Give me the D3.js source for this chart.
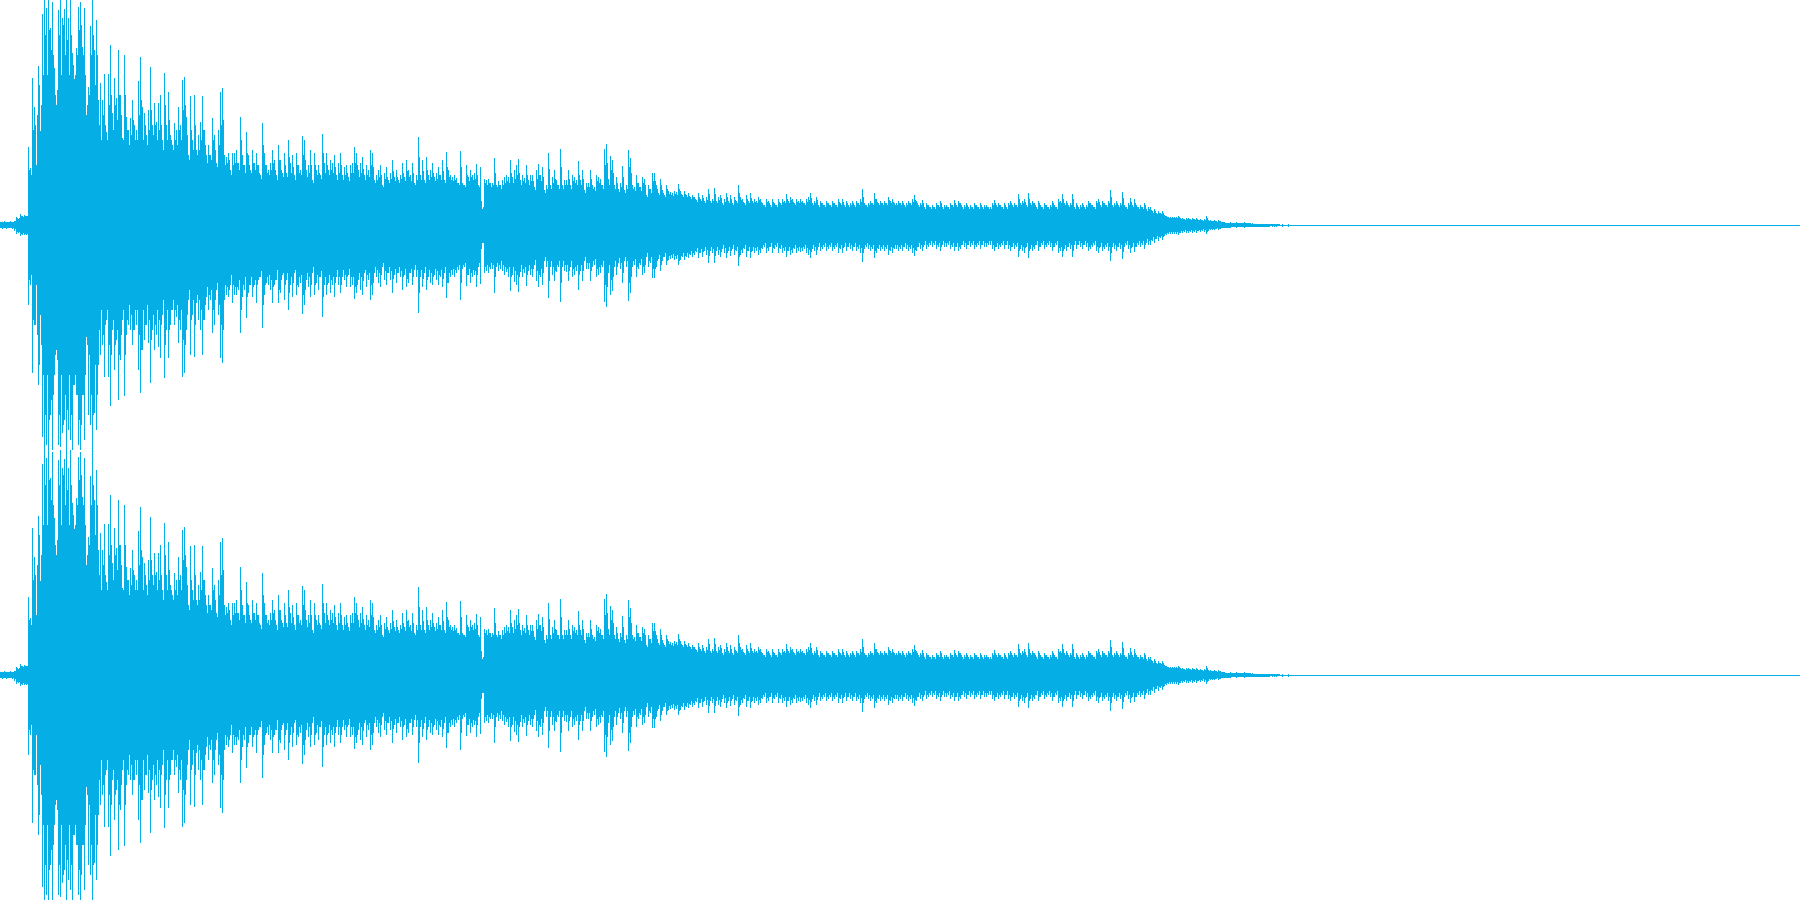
<!DOCTYPE html>
<html><head><meta charset="utf-8">
<style>html,body{margin:0;background:#fff;overflow:hidden}svg{display:block}</style>
<script src="https://cdn.jsdelivr.net/npm/d3@7/dist/d3.min.js"></script>
</head><body><svg id="c" width="1800" height="900"></svg>
<script>
// Peak amplitude per column (even pixel columns), 225 = full scale
const peaksUp = [
3,3,4,3,3,4,3,4,8,6,11,9,10,9,78,57,147,118,60,159,94,211,225,217,225,
197,223,157,120,215,225,207,216,225,207,225,172,146,177,218,223,178,217,95,138,199,225,175,205,125,
142,125,151,93,151,180,112,147,127,175,130,87,170,108,95,107,125,100,95,144,168,118,112,90,115,
158,100,122,103,122,130,85,152,100,133,90,80,102,95,118,100,145,148,108,70,129,85,130,75,90,
103,129,95,70,80,70,107,90,62,95,133,137,70,68,72,55,72,72,75,62,108,70,60,93,70,
55,75,62,72,60,50,102,72,60,55,62,75,65,50,80,65,52,72,52,85,62,70,50,72,60,
55,89,85,55,60,75,45,72,55,60,50,91,62,72,55,65,62,70,50,62,72,50,58,60,48,
60,62,78,72,55,62,68,50,60,55,75,72,45,50,55,60,40,52,58,45,52,65,48,55,45,
50,62,48,65,55,50,62,42,50,88,50,65,45,68,50,55,62,48,52,58,50,65,45,73,55,
50,48,50,47,42,74,42,40,60,48,55,50,52,61,40,58,16,46,45,46,42,42,67,40,44,
40,45,48,50,48,65,48,55,60,66,45,50,47,60,45,50,50,38,55,61,50,58,35,40,72,
40,48,55,45,40,76,40,45,45,55,40,50,48,45,64,45,55,35,42,42,55,40,38,50,48,
46,40,76,81,46,69,65,40,48,36,42,59,35,40,75,67,40,38,50,42,38,48,46,30,40,
36,52,52,40,32,46,35,30,40,34,33,32,34,33,41,34,30,34,30,32,28,30,28,25,32,
26,30,24,28,36,24,26,37,24,28,30,22,26,32,24,30,22,28,24,40,28,26,22,30,24,
32,24,26,24,28,26,22,20,26,24,20,26,22,20,26,22,26,24,31,24,28,26,22,26,24,
26,24,22,26,28,32,22,24,28,20,24,22,20,24,22,20,24,22,20,26,22,26,20,24,20,
22,24,20,24,22,26,36,22,20,22,24,22,32,26,22,24,22,24,22,28,24,26,22,22,24,
22,24,20,22,24,22,26,30,24,20,22,25,18,22,20,18,20,18,22,20,24,18,20,20,18,
22,20,25,20,24,22,18,20,22,18,20,18,22,20,18,22,18,20,20,18,18,22,25,20,22,
20,18,22,18,22,24,20,22,20,31,22,24,26,20,32,22,24,22,18,24,20,18,22,20,18,
20,24,20,18,26,24,31,22,24,20,22,31,18,22,18,20,22,18,20,24,22,20,18,24,26,
20,24,22,20,24,35,20,22,24,20,22,33,20,18,22,27,20,26,20,18,20,18,22,16,18,
18,14,16,12,14,12,14,10,9,8,8,8,8,8,9,7,7,6,7,7,6,7,6,7,5,
6,5,6,9,5,5,4,5,4,5,4,3,3,2,2,3,2,2,3,2,2,2,3,2,2,
2,2,1.5,1.5,1.5,1.5,1.5,1.5,0.5,1.5,0.5,1.5,1.5,1.5,0.5,0.5,1.5,0.5,0.5,1.5,0.5,0.5,0.5,0.5,0.5
];
const peaksDown = [
3,4,3,4,3,3,4,6,9,8,11,10,10,10,80,60,148,100,60,160,90,212,225,220,225,
190,225,150,125,220,222,208,195,225,205,215,225,160,170,220,225,170,215,100,190,200,225,188,205,140,
130,120,152,95,152,181,105,145,115,175,135,95,171,110,100,105,120,105,100,145,168,125,115,100,118,
158,105,125,110,122,133,90,153,105,133,100,85,100,92,118,105,152,148,105,75,130,90,132,78,95,
105,130,95,72,85,75,108,100,65,90,133,138,75,70,72,60,78,70,70,65,108,72,65,93,68,
60,72,60,78,55,52,103,70,58,60,65,78,60,55,78,68,50,75,55,85,60,72,48,70,62,
58,89,80,55,62,72,48,70,58,65,52,92,60,70,58,68,60,72,52,60,68,52,55,62,50,
62,60,74,68,55,65,70,48,62,55,75,70,48,52,58,62,42,55,60,48,55,68,50,58,48,
52,65,50,62,58,48,60,45,52,88,52,62,48,65,52,58,60,50,55,60,52,62,48,73,58,
52,50,52,48,45,75,44,42,61,50,58,52,50,62,42,59,18,48,46,48,44,44,68,42,46,
44,46,50,47,52,66,50,57,60,67,47,52,48,61,46,50,52,40,56,62,52,60,36,42,73,
42,50,56,47,42,77,42,46,47,56,42,52,50,46,65,46,56,36,44,44,56,42,40,52,50,
48,42,77,82,48,70,66,42,50,38,44,58,36,42,76,68,42,40,52,44,40,50,48,32,42,
38,53,53,42,34,46,36,32,40,35,34,33,35,34,40,35,32,35,32,33,30,32,30,27,33,
28,32,26,30,38,26,28,38,26,30,32,24,28,33,26,31,24,30,26,41,30,28,24,32,26,
33,26,28,26,30,28,24,22,28,26,22,28,24,22,28,24,28,26,32,26,30,28,24,28,26,
27,26,24,28,30,33,24,26,30,22,26,24,22,26,24,22,26,24,22,28,24,28,22,26,22,
24,26,22,26,24,28,37,24,22,24,26,24,33,28,24,26,24,26,24,30,26,28,24,24,26,
24,26,22,24,26,24,28,31,26,22,24,26,20,24,22,20,22,20,24,22,26,20,22,22,20,
24,22,26,22,26,24,20,22,24,20,22,20,24,22,20,24,20,22,22,20,20,24,26,22,24,
22,20,24,20,24,26,22,24,22,32,24,26,28,22,33,24,26,24,20,26,22,20,24,22,20,
22,26,22,20,28,26,32,24,26,22,24,32,20,24,20,22,24,20,22,26,24,22,20,26,28,
22,26,24,22,26,36,22,24,26,22,24,34,22,20,24,28,22,27,22,20,22,20,24,18,20,
20,16,18,14,16,13,15,11,10,9,9,9,9,9,10,8,8,7,8,8,7,8,7,8,6,
7,6,7,9,6,5,5,5,4,5,4,3,3,2,2,3,2,2,3,2,2,2,3,2,2,
2,2,1.5,1.5,1.5,1.5,1.5,1.5,0.5,1.5,0.5,1.5,1.5,1.5,0.5,0.5,1.5,0.5,0.5,1.5,0.5,0.5,0.5,0.5,0.5
];
// Amplitude of the odd pixel columns, lower than the peaks around them
const shoulders = [
3,3,3,3,3,3,3,4,7,7,9,8,9,9,55,50,95,100,110,140,120,150,190,150,195,
175,170,130,135,190,150,200,170,185,150,190,160,150,170,195,200,170,150,120,130,170,190,140,170,90,
85,110,100,85,120,130,95,120,105,130,110,85,130,95,80,90,105,85,85,110,125,85,100,80,95,
115,90,100,85,95,100,75,120,85,105,85,75,85,80,95,85,115,120,90,65,95,75,100,70,75,
85,95,80,62,70,65,85,75,58,80,100,105,60,62,65,50,60,62,62,55,85,60,52,72,60,
52,62,55,60,52,46,80,60,52,50,55,62,55,45,65,55,48,60,48,68,52,58,45,60,52,
50,70,65,48,52,60,42,60,50,52,46,72,52,60,50,55,52,58,45,52,60,45,50,52,44,
52,52,62,60,48,52,56,45,50,48,60,58,42,45,48,50,38,46,48,42,46,54,44,48,42,
46,52,44,54,48,44,52,40,45,68,45,54,42,55,45,48,52,44,46,50,45,54,42,58,48,
45,44,45,42,40,58,40,38,50,44,48,45,46,50,38,24,18,42,40,42,38,40,52,38,40,
36,40,42,44,42,52,42,46,50,52,40,44,42,50,40,44,44,35,46,50,44,48,32,36,56,
36,42,46,40,36,58,36,40,40,46,36,44,42,40,50,40,46,32,38,38,46,36,34,44,42,
40,36,60,62,40,55,52,36,42,33,38,48,32,36,58,52,36,34,42,38,34,42,40,28,36,
32,44,44,36,30,40,32,28,36,31,30,29,31,30,36,31,28,31,28,29,26,28,26,23,28,
24,27,22,25,31,22,24,31,22,25,27,20,23,28,22,26,20,25,22,32,25,23,20,26,22,
27,22,23,22,25,23,20,18,23,22,18,23,20,18,23,20,23,22,26,22,25,23,20,23,22,
23,22,20,23,25,27,20,22,25,18,22,20,18,22,20,18,22,20,18,23,20,23,18,22,18,
20,22,18,22,20,23,28,20,18,20,22,20,26,23,20,22,20,22,20,25,22,23,20,20,22,
20,22,18,20,22,20,23,25,22,18,20,22,16,20,18,16,18,16,20,18,22,16,18,18,16,
20,18,22,18,22,20,16,18,20,16,18,16,20,18,16,20,16,18,18,16,16,20,22,18,20,
18,16,20,16,20,22,18,20,18,26,20,22,23,18,26,20,22,20,16,22,18,16,20,18,16,
18,22,18,16,23,22,26,20,22,18,20,26,16,20,16,18,20,16,18,22,20,18,16,22,23,
18,22,20,18,22,28,18,20,22,18,20,27,18,16,20,23,18,22,18,16,18,16,20,14,16,
15,12,14,11,12,11,12,9,8,7,7,7,7,7,8,6,6,5,6,6,5,6,5,6,5,
5,4,5,7,4,4,4,4,3,4,3,3,2,2,2,2,2,2,2,2,2,2,2,2,2
];
// Solid body of the waveform, one value per ten pixel columns
const bodyUp = [
2,2,5,40,70,95,95,100,110,100,62,62,52,44,42,40,38,40,38,35,38,32,30,26,26,26,25,25,25,25,25,24,24,24,24,23,23,23,22,22,
22,22,22,22,22,23,23,23,12,23,23,23,23,23,22,22,22,22,22,22,22,22,22,21,20,19,18,18,17,16,16,15,14,14,13,13,13,12,12,12,
12,12,11,11,11,11,11,11,11,11,11,11,11,11,11,11,11,11,11,11,11,11,11,11,11,11,11,11,11,11,11,11,10,10,9,7,5,4,3.5,3.5,
3,3,2.5,2,2,1.5,1.5,1,0.5,0.5,0.5
];
const bodyDown = [
2,2,5,42,68,92,90,98,112,105,62,60,50,44,42,42,40,40,38,36,38,34,32,28,28,28,27,27,27,27,27,26,26,26,26,25,25,25,24,24,
24,24,24,24,24,25,25,25,12,25,25,25,25,25,24,24,24,24,24,24,24,24,23,22,21,20,19,19,18,17,17,16,15,15,14,14,14,13,13,13,
13,13,12,12,12,12,12,12,12,12,12,12,12,12,12,12,12,12,12,12,12,12,12,12,12,12,12,12,12,12,12,12,11,11,10,8,6,4.5,4,3.5,
3.5,3,2.5,2,2,1.5,1.5,1,0.5,0.5,0.5
];
const silence = [1, 1];            // amplitude of the flat tail
const channels = ["left", "right"];

const W = 1800, H = 900, laneH = H / channels.length;
const x = d3.scaleLinear().domain([0, 1800]).range([0, W]);
const lane = d3.scaleBand().domain(channels).range([0, H]);
const color = "#06aee6";
const svg = d3.select("#c");

channels.forEach(name => {
  const top = lane(name);
  const y = d3.scaleLinear().domain([225, -225]).range([top, top + laneH]);
  const g = svg.append("g").attr("shape-rendering", "crispEdges").attr("fill", color);

  g.append("rect")
    .attr("x", x(0)).attr("width", x(1800) - x(0))
    .attr("y", y(silence[0]) + 0.5).attr("height", 1);

  const area = d3.area().curve(d3.curveStepAfter)
    .x((d, i) => x(i * 10))
    .y0((d, i) => y(-bodyDown[i]))
    .y1(d => y(d));
  g.append("path").attr("d", area(bodyUp));

  g.selectAll("rect.peak").data(peaksUp).join("rect")
    .attr("class", "peak")
    .attr("x", (d, i) => x(i * 2))
    .attr("width", 1)
    .attr("y", d => y(d))
    .attr("height", (d, i) => y(-peaksDown[i]) - y(d));

  g.selectAll("rect.shoulder").data(shoulders).join("rect")
    .attr("class", "shoulder")
    .attr("x", (d, i) => x(i * 2 + 1))
    .attr("width", 1)
    .attr("y", d => y(d))
    .attr("height", d => y(-d) - y(d));
});
</script></body></html>
